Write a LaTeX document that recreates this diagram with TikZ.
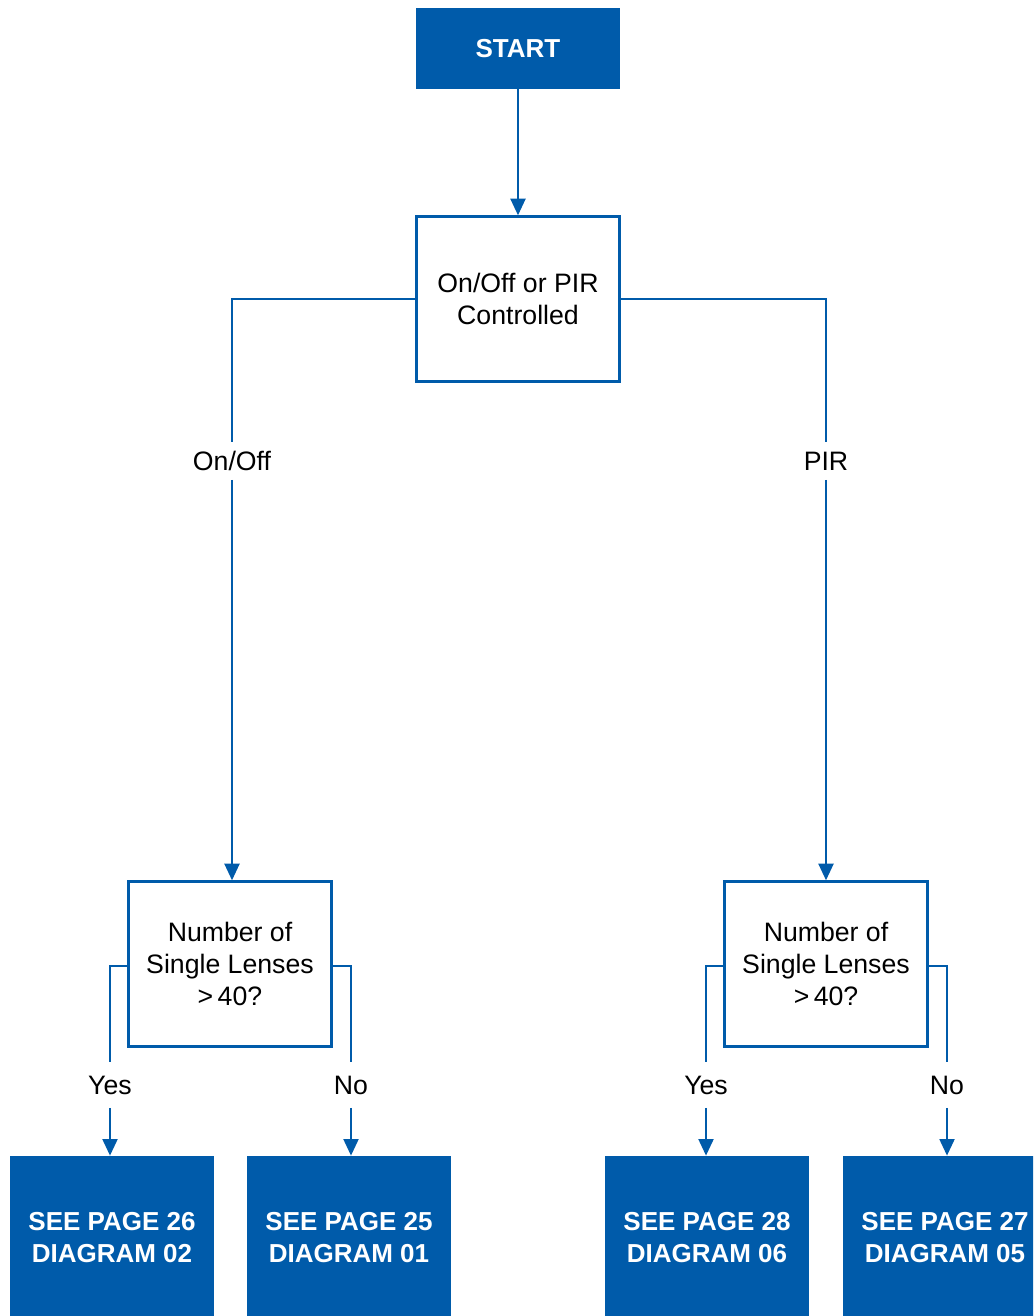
\documentclass[tikz,border=0pt]{standalone}
\usepackage{fontspec}
\setmainfont{Liberation Sans}
\usetikzlibrary{arrows.meta}
\definecolor{fcblue}{RGB}{0,91,170}
\begin{document}
\begin{tikzpicture}[x=0.75pt,y=-0.75pt,
  txt/.style={font=\fontsize{20}{24}\selectfont},
  solidbox/.style={txt,fill=fcblue,text=white,font=\fontsize{19.5}{24}\selectfont\bfseries,align=center,minimum width=153pt,inner sep=0pt},
  decbox/.style={txt,draw=fcblue,line width=1.9pt,fill=white,align=center,minimum width=152pt,minimum height=123.5pt,inner sep=0pt},
  lbl/.style={txt,inner sep=0pt,minimum height=28pt},
  ylbl/.style={txt,inner sep=0pt,minimum height=34pt},
  conn/.style={draw=fcblue,line width=2.2pt},
  arr/.style={conn,-{Triangle[length=12.5pt,width=11pt]}}
]
\useasboundingbox (0,0) rectangle (1033,1316);
\clip (0,0) rectangle (1033,1316);

\node[solidbox,minimum height=60.75pt] (start) at (518,48.5) {START};
\node[decbox] (d1) at (518,299) {On/Off or PIR\\Controlled};
\node[decbox] (dl) at (230,964) {Number of\\Single Lenses\\>\,40?};
\node[decbox] (dr) at (826,964) {Number of\\Single Lenses\\>\,40?};

\node[lbl] (onoff) at (232,461) {On/Off};
\node[lbl] (pir) at (826,461) {PIR};

\node[ylbl] (yl) at (110,1085) {Yes};
\node[ylbl] (nl) at (351,1085) {No};
\node[ylbl] (yr) at (706,1085) {Yes};
\node[ylbl] (nr) at (947,1085) {No};

\node[solidbox,minimum height=123pt] (b1) at (112,1238) {SEE PAGE 26\\DIAGRAM 02};
\node[solidbox,minimum height=123pt] (b2) at (349,1238) {SEE PAGE 25\\DIAGRAM 01};
\node[solidbox,minimum height=123pt] (b3) at (707,1238) {SEE PAGE 28\\DIAGRAM 06};
\node[solidbox,minimum height=123pt] (b4) at (945,1238) {SEE PAGE 27\\DIAGRAM 05};

\draw[arr] (start.south) -- (d1.north);

\draw[conn] (d1.west) -| (onoff.north);
\draw[arr] (onoff.south) -- (onoff.south |- dl.north);
\draw[conn] (d1.east) -| (pir.north);
\draw[arr] (pir.south) -- (pir.south |- dr.north);

\draw[conn] ([yshift=-1.5pt]dl.west) -| (yl.north);
\draw[arr] (yl.south) -- (yl.south |- b1.north);
\draw[conn] ([yshift=-1.5pt]dl.east) -| (nl.north);
\draw[arr] (nl.south) -- (nl.south |- b2.north);

\draw[conn] ([yshift=-1.5pt]dr.west) -| (yr.north);
\draw[arr] (yr.south) -- (yr.south |- b3.north);
\draw[conn] ([yshift=-1.5pt]dr.east) -| (nr.north);
\draw[arr] (nr.south) -- (nr.south |- b4.north);
\end{tikzpicture}
\end{document}
